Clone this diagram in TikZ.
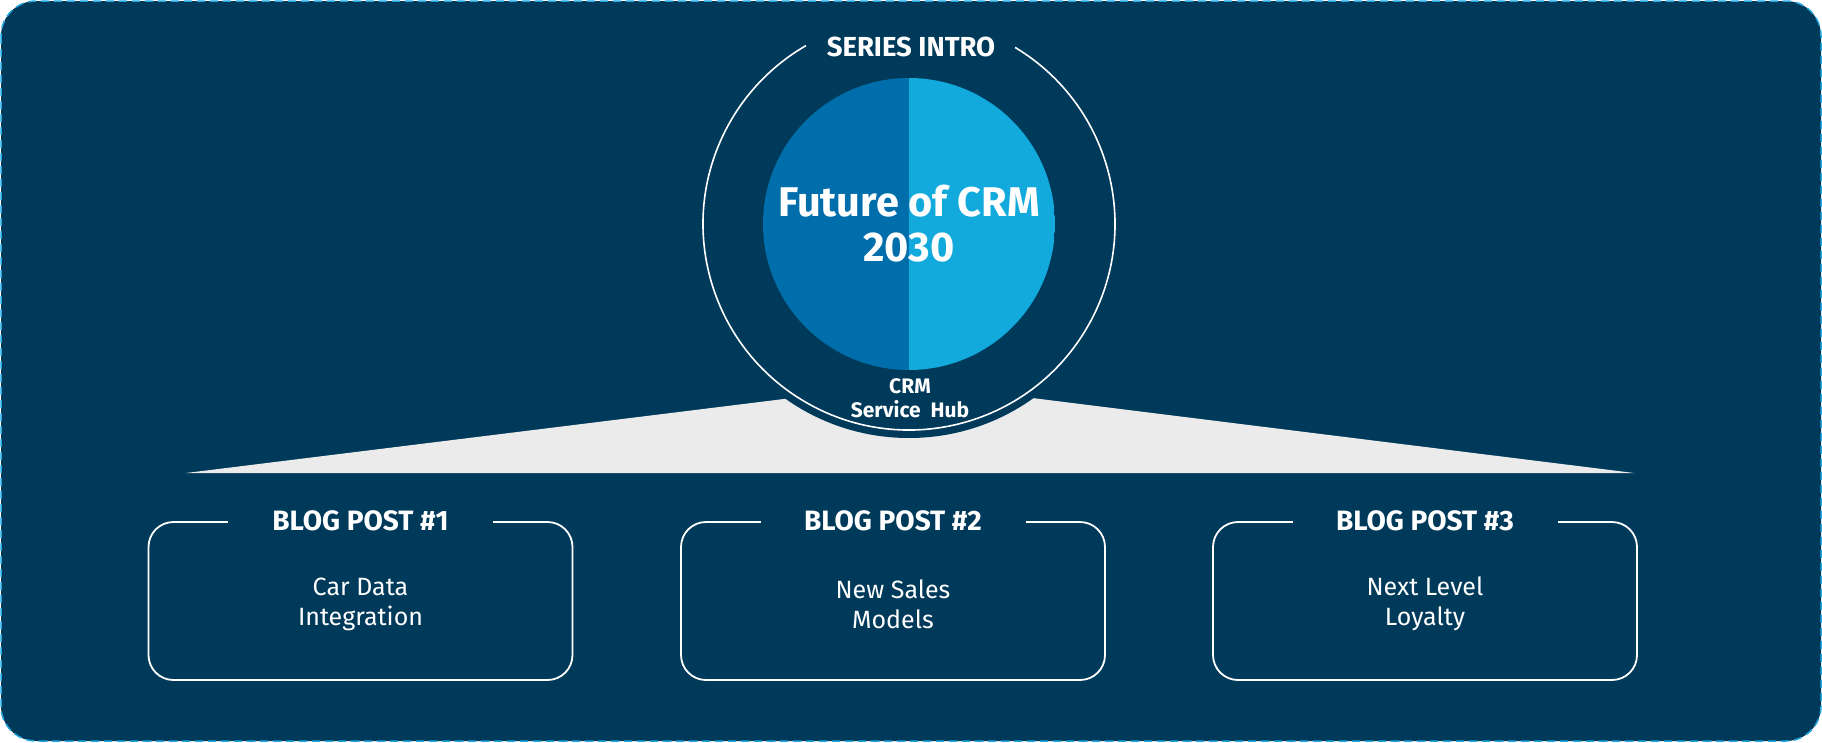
\documentclass[tikz,border=0pt]{standalone}
\usepackage{fontspec}
\setmainfont{Fira Sans}
\definecolor{navy}{HTML}{003A5A}
\definecolor{frameblue}{HTML}{22A7E0}
\definecolor{hubdark}{HTML}{006EAA}
\definecolor{hublight}{HTML}{12A9DC}
\definecolor{wedge}{HTML}{EBEBEB}
\begin{document}
\begin{tikzpicture}[x=1pt,y=-1pt,
  blogbox/.style={draw=white, line width=1.8pt, rounded corners=25pt, minimum width=424pt, minimum height=158pt, inner sep=0pt},
  blogtitle/.style={fill=navy, text=white, inner sep=0pt, minimum width=265pt, minimum height=30pt, font=\bfseries\fontsize{28}{32}\selectfont},
  blogbody/.style={text=white, align=center, inner sep=0pt, font=\fontsize{25}{30}\selectfont},
  hubtext/.style={text=white, align=center, font=\bfseries\fontsize{41.5}{45}\selectfont}]
\useasboundingbox (0,0) rectangle (1822,742);
\fill[white] (0,0) rectangle (1822,742);
% frame
\draw[fill=navy, draw=frameblue, line width=1.5pt, dash pattern=on 8pt off 5pt, rounded corners=35pt] (1,1) rectangle (1821,741);
% grey wedge
\fill[wedge] (186,473) -- (800,397) -- (1016,396) -- (1634,473) -- cycle;
% dark disk
\fill[navy] (909,224) circle[radius=214];
% outer ring
\coordinate (hc) at (909,224);
\draw[white, line width=1.6pt] ([shift={(-59:206)}]hc) arc[start angle=-59, end angle=240, radius=206];
% hub
\node[circle, minimum size=292pt, inner sep=0pt, hubtext,
  path picture={\fill[hubdark] (path picture bounding box.north west) rectangle (path picture bounding box.south);
                \fill[hublight] (path picture bounding box.north) rectangle (path picture bounding box.south east);}]
  (hub) at (hc) {Future of CRM\\2030};
\node[text=white, inner sep=0pt, font=\bfseries\fontsize{27.5}{30}\selectfont] (intro) at (911,47) {SERIES INTRO};
\node[text=white, align=center, inner sep=0pt, font=\bfseries\fontsize{21}{24}\selectfont] (crm) at (910,398) {CRM\\Service\ \ Hub};
% blog boxes
\foreach \i/\x/\a/\b in {1/360.5/Car Data/Integration, 2/893/New Sales/Models, 3/1425/Next Level/Loyalty}{
  \node[blogbox] (box\i) at (\x,601) {};
  \node[blogtitle] (title\i) at (box\i.north) {BLOG POST \#\i};
  \node[blogbody] (body\i) at ([yshift=-3pt]box\i.center) {\a\\\b};
}
\end{tikzpicture}
\end{document}
